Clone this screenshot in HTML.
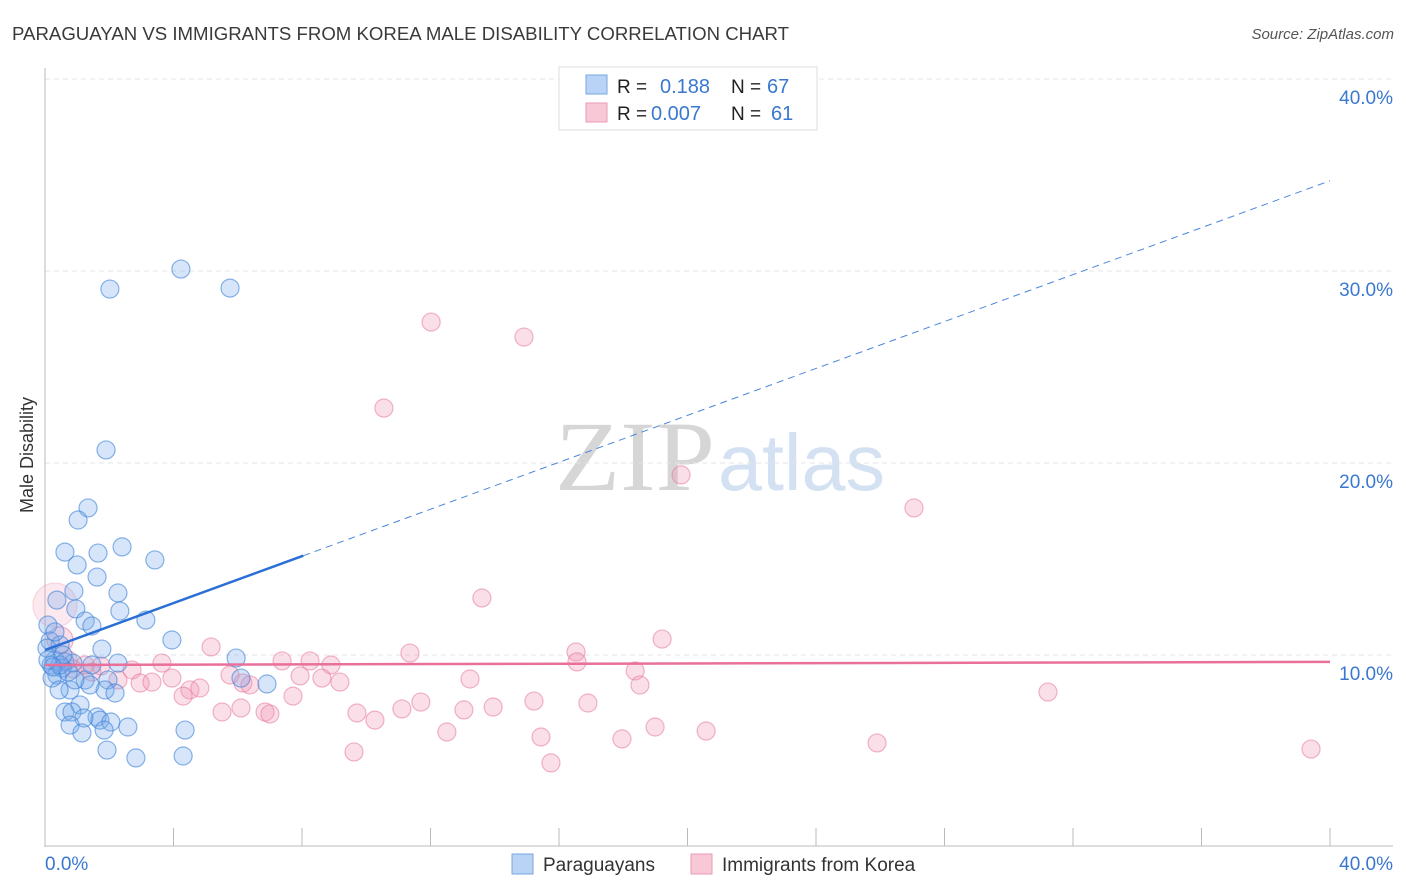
<!DOCTYPE html>
<html><head><meta charset="utf-8">
<style>
body{margin:0;background:#fff;font-family:"Liberation Sans",sans-serif;}
svg{display:block}
</style></head>
<body>
<svg id="chart" width="1406" height="892" xmlns="http://www.w3.org/2000/svg">
<text x="12" y="40" font-size="18" fill="#3a3a3a" textLength="777" lengthAdjust="spacingAndGlyphs">PARAGUAYAN VS IMMIGRANTS FROM KOREA MALE DISABILITY CORRELATION CHART</text>
<text x="1394" y="39" font-size="15" fill="#555" font-style="italic" text-anchor="end">Source: ZipAtlas.com</text>
<text x="555" y="490" font-size="100" fill="#d6d6d6" font-family="Liberation Serif,serif"><tspan textLength="160" lengthAdjust="spacingAndGlyphs">ZIP</tspan><tspan x="718" fill="#d3e1f3" font-family="Liberation Sans,sans-serif" font-size="80" textLength="167" lengthAdjust="spacingAndGlyphs">atlas</tspan></text>
<g id="grid"></g>
<g id="axes"></g>
<g id="marks"></g>
<text transform="translate(33,455) rotate(-90)" font-size="18" fill="#333" text-anchor="middle">Male Disability</text>
<g>
<rect x="559" y="67" width="258" height="63" fill="#fff" stroke="#ddd"/>
<rect x="586" y="75" width="21" height="19" fill="#b8d3f5" stroke="#7aa7e0"/>
<rect x="586" y="103" width="21" height="19" fill="#f8c8d6" stroke="#eb9ab4"/>
<text x="617" y="93" font-size="19" fill="#222">R = </text><text x="660" y="93" font-size="20" fill="#3a78d0">0.188</text>
<text x="731" y="93" font-size="19" fill="#222">N = </text><text x="767" y="93" font-size="20" fill="#3a78d0">67</text>
<text x="617" y="120" font-size="19" fill="#222">R = </text><text x="651" y="120" font-size="20" fill="#3a78d0">0.007</text>
<text x="731" y="120" font-size="19" fill="#222">N = </text><text x="771" y="120" font-size="20" fill="#3a78d0">61</text>
</g>
<g>
<rect x="512" y="854" width="21" height="20" fill="#b8d3f5" stroke="#7aa7e0"/>
<text x="543" y="871" font-size="19" fill="#333">Paraguayans</text>
<rect x="691" y="854" width="21" height="20" fill="#f8c8d6" stroke="#eb9ab4"/>
<text x="722" y="871" font-size="19" fill="#333">Immigrants from Korea</text>
</g>
</svg>
<script>
const yTicks=[10,20,30,40];
const xTickLabels=["0.0%","40.0%"];
const blueX=[4.23,2.02,5.76,1.90,1.34,1.03,0.62,1.65,2.40,3.42,1.00,1.62,0.90,2.27,0.37,0.96,2.33,3.14,1.25,1.46,0.09,3.95,0.16,0.47,1.77,5.95,0.31,0.62,0.87,2.27,0.19,0.53,0.37,1.25,0.22,1.96,6.10,6.91,0.78,1.87,2.18,1.09,0.62,0.84,1.62,1.71,1.21,2.05,0.78,1.84,2.58,4.36,1.15,1.93,2.83,4.30,0.47,0.06,0.31,0.72,1.40,0.44,0.09,0.56,0.25,0.93,1.46];
const blueY=[30.1,29.06,29.11,20.68,17.66,17.03,15.36,15.31,15.63,14.95,14.69,14.06,13.33,13.23,12.86,12.40,12.29,11.82,11.77,11.51,11.56,10.78,10.73,10.52,10.31,9.84,9.74,9.64,9.58,9.58,9.48,9.32,8.96,8.70,8.80,8.70,8.80,8.49,8.18,8.18,8.02,7.40,7.03,7.03,6.77,6.61,6.72,6.51,6.35,6.09,6.25,6.09,5.94,5.05,4.64,4.74,9.48,10.36,11.2,9.11,8.44,8.18,9.74,10.0,9.38,8.70,9.48];
const pinkX=[12.02,14.91,10.55,19.80,27.05,13.60,19.21,11.36,16.53,5.17,16.56,18.37,8.90,8.25,7.38,3.64,2.71,1.74,0.87,1.46,5.76,7.94,8.62,9.18,13.23,18.52,31.22,2.27,2.96,3.33,3.95,4.51,4.82,4.30,6.16,6.38,7.72,11.70,11.11,13.04,13.95,15.22,16.90,9.71,10.27,6.10,5.51,6.85,7.00,12.51,15.44,18.99,20.58,17.96,25.90,9.62,15.75,39.41,0.31,0.47,0.72,1.25];
const pinkY=[27.34,26.56,22.86,19.38,17.66,12.97,10.83,10.10,10.16,10.42,9.64,9.17,9.48,9.69,9.69,9.58,9.22,9.43,9.27,9.11,8.96,8.91,8.80,8.59,8.75,8.44,8.07,8.70,8.54,8.59,8.80,8.18,8.28,7.86,8.54,8.44,7.86,7.55,7.19,7.14,7.29,7.60,7.50,6.98,6.61,7.24,7.03,7.03,6.93,5.99,5.73,6.25,6.04,5.63,5.42,4.95,4.38,5.10,12.60,10.78,9.74,9.48];
const pinkBig=[58,59,60];
const blueTrend=[10.26,34.7];
const pinkTrend=[9.48,9.64];
const blueSolidEnd=8.04;

const NS="http://www.w3.org/2000/svg";
const X=v=>45+v/40*1285;
const Y=v=>847-v*19.2;
function mk(tag,attrs,parent){const e=document.createElementNS(NS,tag);for(const k in attrs)e.setAttribute(k,attrs[k]);parent.appendChild(e);return e;}
const grid=document.getElementById('grid'),axes=document.getElementById('axes'),marks=document.getElementById('marks');
yTicks.forEach(t=>{
  const l=mk('line',{x1:45,x2:1393,y1:Y(t),y2:Y(t),stroke:'#e4e4e4','stroke-dasharray':'5,4'},grid);
  
  
  const tx=mk('text',{x:1393,y:Y(t)+25,'font-size':19,fill:'#3a78d0','text-anchor':'end'},axes);
  tx.textContent=t.toFixed(1)+'%';
  
  
});
mk('line',{x1:45,x2:45,y1:68,y2:847,stroke:'#bbb'},axes);
mk('line',{x1:45,x2:1393,y1:846,y2:846,stroke:'#bbb'},axes);
for(let i=1;i<=10;i++){mk('line',{x1:X(i*4),x2:X(i*4),y1:828,y2:846,stroke:'#bbb'},axes);}
xTickLabels.forEach((s,i)=>{
  const tx=mk('text',{x:i?1393:45,y:870,'font-size':19,fill:'#3a78d0','text-anchor':i?'end':'start'},axes);
  tx.textContent=s;
  
  
});
pinkX.forEach((x,i)=>{
  const big=pinkBig[0]===i;
  const r=big?22:(i===59?13:9);
  const c=mk('circle',{cx:X(x),cy:Y(pinkY[i]),r:r,fill:big?'rgba(242,150,180,0.22)':'rgba(242,150,180,0.3)',stroke:big?'rgba(230,120,155,0.25)':'rgba(230,120,155,0.55)','stroke-width':1.2},marks);
  
  
});
blueX.forEach((x,i)=>{
  const c=mk('circle',{cx:X(x),cy:Y(blueY[i]),r:9,fill:'rgba(120,170,235,0.3)',stroke:'rgba(60,130,215,0.6)','stroke-width':1.2},marks);
  
  
});
const by=x=>blueTrend[0]+(blueTrend[1]-blueTrend[0])*x/40;
const bs=mk('line',{x1:X(0),y1:Y(by(0)),x2:X(blueSolidEnd),y2:Y(by(blueSolidEnd)),stroke:'#2a6fd6','stroke-width':2.5},marks);


const bd=mk('line',{x1:X(blueSolidEnd),y1:Y(by(blueSolidEnd)),x2:X(40),y2:Y(by(40)),stroke:'#4a86dc','stroke-width':1,'stroke-dasharray':'7,5'},marks);


const pl=mk('line',{x1:X(0),y1:Y(pinkTrend[0]),x2:X(40),y2:Y(pinkTrend[1]),stroke:'#e8709a','stroke-width':2.5},marks);


</script>
</body></html>
